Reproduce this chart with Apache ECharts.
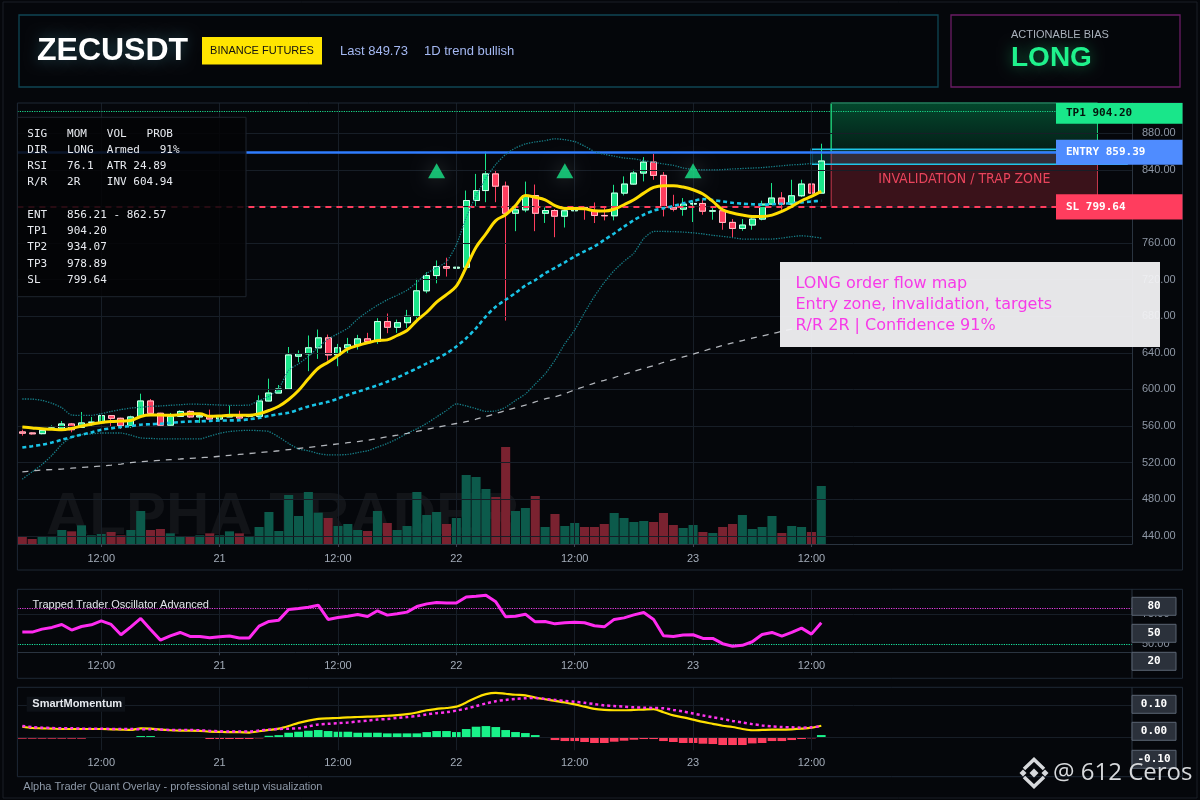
<!DOCTYPE html>
<html><head><meta charset="utf-8">
<script src="https://cdn.jsdelivr.net/npm/echarts@6/dist/echarts.min.js"></script>
<style>html,body{margin:0;padding:0;background:#05070b;}#c{width:1200px;height:800px;}</style>
</head><body><div id="c"></div>
<script>
// ---------------- DATA ----------------
const startDay = 20, startHour = 4, totalBars = 113;
const tickIdx = [8, 20, 32, 44, 56, 68, 80];
const tickLabels = ['12:00', '21', '12:00', '22', '12:00', '23', '12:00'];
const priceTicks = [440, 480, 520, 560, 600, 640, 680, 720, 760, 800, 840, 880];
const oscTicks = [50, 75];

const open = [553.6,552.5,551.7,557.3,557.5,562.3,558.6,564.0,563.7,571.4,
  568.5,560.0,570.6,587.4,574.0,561.0,570.6,576.0,570.0,571.4,
  567.7,570.0,570.6,570.6,570.6,587.4,596.1,600.5,636.4,639.0,
  645.5,656.4,637.8,645.5,648.8,655.3,652.4,674.2,668.0,673.0,
  680.0,707.8,724.5,734.4,732.6,733.6,806.5,817.4,835.6,822.2,
  792.6,796.3,812.0,792.6,795.6,789.4,795.3,799.3,795.0,790.2,
  789.8,814.6,824.5,836.5,848.5,834.0,799.3,797.1,802.6,803.3,
  794.9,795.3,782.6,776.0,779.7,786.2,802.6,809.2,802.6,811.7,
  824.5,814.6];
const close = [552.2,551.5,555.3,558.0,562.3,556.0,563.4,564.3,571.4,568.5,
  560.4,570.0,587.4,573.9,561.0,570.6,576.0,570.0,571.4,567.7,
  570.6,571.4,568.8,571.0,587.4,596.1,600.5,637.7,639.0,645.5,
  656.4,637.8,645.5,648.8,655.3,652.4,674.2,668.0,673.0,680.0,
  707.8,724.5,734.4,732.6,733.6,806.5,817.4,835.6,822.2,792.6,
  796.3,812.0,792.6,795.6,789.4,795.3,799.3,798.5,790.2,789.8,
  814.6,824.5,836.5,848.5,834.0,799.3,797.1,802.6,803.3,794.9,
  795.3,782.6,776.0,779.7,786.2,802.6,809.2,802.6,811.7,824.5,
  814.6,849.7];
const high = [556.0,553.2,556.8,560.8,565.5,563.4,575.4,570.0,572.0,572.1,
  569.2,571.4,595.4,589.6,574.5,574.3,577.2,577.2,574.3,578.0,
  572.0,582.3,576.8,572.0,593.6,611.8,604.9,646.4,642.7,659.0,
  665.5,660.0,649.8,656.4,659.7,661.9,677.9,683.0,676.4,687.0,
  720.9,728.2,741.0,744.0,742.8,817.4,835.6,860.0,840.0,827.2,
  799.0,827.2,824.0,799.0,797.2,800.0,811.0,800.0,804.4,799.3,
  823.7,832.9,840.1,854.0,857.6,837.6,812.8,809.2,806.6,807.4,
  798.3,796.4,786.2,786.2,789.1,806.3,825.6,815.7,829.2,829.2,
  829.2,868.6];
const low = [549.5,550.6,550.9,556.5,556.0,553.2,557.9,559.7,563.0,559.7,
  556.8,558.0,569.0,572.8,560.4,560.0,570.0,568.8,563.4,567.0,
  567.0,570.0,567.7,569.5,570.0,587.0,596.0,600.0,629.8,620.0,
  633.4,631.6,625.4,639.0,643.6,651.3,649.8,661.5,661.9,667.3,
  677.2,705.2,716.0,723.4,726.3,733.6,800.3,804.7,804.7,675.3,
  773.0,793.7,773.0,782.0,766.4,777.0,794.6,785.5,781.9,784.8,
  784.8,812.1,823.8,827.4,829.2,789.1,794.6,789.9,783.0,791.0,
  785.5,774.6,766.2,773.5,774.6,784.8,801.9,796.4,801.9,810.3,
  809.2,814.6];
const volume = [24,15,21,21,42,38,56,26,30,36,
  26,42,99,42,45,32,21,21,26,32,
  26,38,32,24,51,96,39,147,84,156,
  94,78,54,60,42,39,99,63,42,54,
  156,87,96,60,78,207,201,165,141,291,
  99,108,144,51,90,54,63,51,51,60,
  93,78,66,69,66,93,57,48,57,36,
  33,51,60,87,45,51,84,33,54,51,
  36,174];
const emaFast = [559,558,557,556.5,556,557.5,560,562,564,565,
  565.5,566,570.5,572,572,571.7,572.5,573.5,573.5,570.6,
  571,571.7,571.7,571.7,573.5,577,581.6,589,598.8,611.6,
  623.2,629.8,637,644.4,648,651,653.5,654.2,659,664.4,
  675.3,684.4,695.4,703.7,712.9,733.6,755.5,770,784.6,791,
  801,812,810,807.2,801,797.9,797.9,797.5,795.3,795,
  797,801.9,807.4,814.6,820.8,822.7,822.7,821.2,818.3,813.6,
  805.5,796.4,792.8,790.6,789.1,789.1,790.6,794.6,800,806.3,
  811,816.5];
const emaSlow = [536.5,538,539.7,542,545,548,550.6,553,556,557.5,
  559,560,561.5,562,562.6,563.5,564.4,565,565.2,565.6,
  566,566.2,566.3,567.5,568.8,571,573,574.5,578,581.5,
  584,586.5,590,594,597.5,601,604.5,608.5,613,618,
  623,628.5,633.5,639.5,647,656,667,680,690.5,698,
  705.5,713.6,719.5,727,733,739,745.4,751,756.4,763.5,
  770.5,778,785,791,795.5,798,800.5,803.5,806,808,
  807,805.5,804,803,802.5,802,802.5,803,803.7,804.4,
  805.5,806.3];
const bbUpper = [589.6,589.5,588,585,580,572,571.7,571.7,573.5,576,
  578,579.7,580.5,581.6,582,582.7,583.3,584,583.8,583.5,
  583,582.7,582.7,583,588,592.5,601,621,628,636,
  646,655,661,667,677,685,692,698,703,708.5,
  717,727,733,739.5,758,788,812,831,846,857,
  864,868.4,870.5,872,874,873,871,866,860,857,
  855,853,852,850,848.5,846.5,845,842,840.5,840,
  840,840.3,841,841.5,842,842.5,843.5,844.5,845.5,846,
  847,847.5];
const bbLower = [502,510,518,528,540,548,550.6,551.5,552.4,552.4,
  552.4,550,547,546.5,546,546,546,546,546,549,
  552,554,555,555.3,555,554,548,541,535,533,
  530,528.5,528.5,529,531,533,537,541,546,552,
  557,563,570,577,584.3,582,579,576,576.5,580.6,
  588,595,606,617,632,650,665,684,701.7,717,
  730,740,749,765,772.7,772.7,772.5,772,771.2,770,
  768.5,767.3,766,764.4,764.4,764.4,764.4,765.5,767,768,
  767,765.5];
const trendMA = [510,511,512,512.5,513,514,514.8,515.5,516.3,517.3,
  518.5,520,521,521.8,522.5,523.3,524,524.7,525.4,526,
  527,528,529,530,531,532,533,534.3,535.5,536.7,
  538,539.2,540.5,541.8,543,544.5,546.3,548.2,550,552,
  554.2,556.4,558.6,560.8,562.8,564.8,567.5,570.5,573.7,577,
  580,583,586.4,589.8,592,595.5,599.5,603.2,607,610,
  613,616.5,619.7,623,626,629.5,632.5,635.5,638.5,641.8,
  645,648,650.8,653.5,656,658.5,661,663.5,666,668.5,
  671,673.5];
const oscValues = [60,60,62.5,63.9,66.4,61.7,64.7,66.1,69.4,66.4,
  57.8,64.4,71.4,62.2,53.3,56.9,59.7,56.4,56.4,55.3,
  56.1,56.7,55,55,65,68.9,70,78.9,79.7,80.8,
  82.5,70.6,72.2,73.3,74.7,73,77.8,74.2,75.3,76.7,
  81.4,83.6,84.7,84.4,84.4,89.4,90,90.8,85.3,72.8,
  73.3,75,68.6,68.9,66.9,67.8,68.3,67.8,65.3,64.4,
  70.6,71.9,74.4,76.4,70.6,56.9,56.4,57.5,57.8,54.7,
  54.7,50.3,48.1,48.9,51.9,58,59.7,56.7,59.7,63.3,
  58.3,67.8];
const momLine = [0.033,0.029,0.028,0.027,0.026,0.026,0.026,0.026,0.026,0.025,
  0.024,0.023,0.028,0.027,0.024,0.022,0.021,0.021,0.020,0.018,
  0.017,0.016,0.016,0.015,0.019,0.023,0.027,0.035,0.045,0.052,
  0.057,0.059,0.060,0.062,0.063,0.064,0.065,0.067,0.069,0.072,
  0.077,0.084,0.088,0.091,0.095,0.108,0.123,0.134,0.138,0.135,
  0.132,0.130,0.123,0.118,0.113,0.108,0.102,0.095,0.088,0.085,
  0.084,0.084,0.085,0.086,0.087,0.078,0.068,0.062,0.055,0.048,
  0.042,0.036,0.032,0.026,0.022,0.023,0.024,0.024,0.025,0.027,
  0.030,0.036];
const momSignal = [0.035,0.032,0.030,0.029,0.028,0.028,0.027,0.027,0.027,0.026,
  0.026,0.026,0.025,0.025,0.024,0.023,0.023,0.0226,0.022,0.020,
  0.019,0.018,0.018,0.018,0.021,0.024,0.026,0.027,0.028,0.034,
  0.040,0.042,0.044,0.046,0.049,0.052,0.055,0.057,0.060,0.063,
  0.066,0.071,0.075,0.078,0.083,0.089,0.097,0.105,0.112,0.116,
  0.119,0.121,0.122,0.119,0.116,0.113,0.110,0.107,0.103,0.099,
  0.097,0.095,0.093,0.092,0.091,0.090,0.085,0.080,0.074,0.068,
  0.062,0.057,0.051,0.046,0.041,0.037,0.034,0.032,0.031,0.030,
  0.031,0.035];
const momHist = [-0.004,-0.004,-0.004,-0.004,-0.004,-0.004,-0.004,-0.002,-0.002,-0.002,
  -0.002,-0.002,0.004,0.004,-0.002,-0.002,-0.002,-0.002,-0.002,-0.005,
  -0.005,-0.005,-0.005,-0.005,-0.003,0.005,0.007,0.0144,0.0175,0.0206,
  0.0227,0.0196,0.0175,0.0175,0.0144,0.0144,0.0144,0.0124,0.0124,0.0124,
  0.0124,0.0165,0.0196,0.0196,0.0165,0.0258,0.033,0.035,0.032,0.0227,
  0.0165,0.0134,0.0072,-0.002,-0.0083,-0.0114,-0.0114,-0.0144,-0.0175,-0.0175,
  -0.0134,-0.0103,-0.0072,-0.0052,-0.0052,-0.0114,-0.0144,-0.0175,-0.0175,-0.0196,
  -0.0206,-0.0237,-0.0237,-0.0237,-0.0186,-0.0175,-0.0114,-0.0114,-0.0083,-0.0052,
  -0.003,0.0072];
const signalIdx = [42, 55, 68];
const signalPrice = 839;
const tp1 = 904.20, entry = 859.39, sl = 799.64;
const entryBoxHigh = 862.57, entryBoxLow = 846.2;
const zoneStart = 82, zoneEnd = 109, boxStart = 80, boxEnd = 112;
const infoLines = [
  'SIG   MOM   VOL   PROB',
  'DIR   LONG  Armed   91%',
  'RSI   76.1  ATR 24.89',
  'R/R   2R    INV 604.94',
  '',
  'ENT   856.21 - 862.57',
  'TP1   904.20',
  'TP2   934.07',
  'TP3   978.89',
  'SL    799.64'
];
const noteLines = ['LONG order flow map', 'Entry zone, invalidation, targets', 'R/R 2R | Confidence 91%'];

// ---------------- BUILD ----------------
const FONT = "'Liberation Sans', Arial, sans-serif";
const MONO = "'DejaVu Sans Mono', monospace";
const categories = [];
for (let k = 0; k < totalBars; k++) {
  const h = startHour + k, d = startDay + Math.floor(h / 24), hh = h % 24;
  categories.push(d + ' ' + String(hh).padStart(2, '0') + ':00');
}
const labelMap = {};
tickIdx.forEach((t, j) => labelMap[t] = tickLabels[j]);
const isTick = i => tickIdx.indexOf(i) >= 0;

const candleData = open.map((o, i) => [o, close[i], low[i], high[i]]);
const bodyData = open.map((o, i) => [o, close[i], Math.min(o, close[i]), Math.max(o, close[i])]);
const volData = volume.map((v, i) => ({ value: v, itemStyle: { color: close[i] >= open[i] ? '#0c5a4b' : '#7a2230' } }));
const histData = momHist.map(v => ({ value: v, itemStyle: { color: v >= 0 ? '#19f28a' : '#ff3d5e' } }));

const GL = 17.4, GR = 68;
const grids = [
  { left: GL, right: GR, top: 103, height: 441 },
  { left: GL, right: GR, top: 444, height: 100 },
  { left: GL, right: GR, top: 589.3, height: 63 },
  { left: GL, right: GR, top: 687.3, height: 63 }
];
function makeX(gi, show, margin) {
  return {
    type: 'category', gridIndex: gi, data: categories, boundaryGap: true,
    axisLine: { show: show, lineStyle: { color: '#2a3440' } },
    axisTick: { show: show, alignWithLabel: true, interval: (i) => isTick(i), length: 3, lineStyle: { color: '#3a4452' } },
    axisLabel: { show: show, interval: (i) => isTick(i), formatter: (v, i) => labelMap[i] || '', color: '#a3acb9', fontSize: 11, margin: margin, fontFamily: FONT },
    splitLine: { show: false }
  };
}
const vLines = tickIdx.map(i => ({ xAxis: categories[i] }));
function gridHelper(xi, yi, extra) {
  return {
    type: 'line', xAxisIndex: xi, yAxisIndex: yi, data: [], z: 1, silent: true,
    markLine: { silent: true, symbol: ['none', 'none'], animation: false, label: { show: false },
      lineStyle: { color: '#171e27', width: 1, type: 'solid' }, data: vLines.concat(extra) }
  };
}

const option = {
  backgroundColor: '#05070b',
  animation: false,
  grid: grids,
  xAxis: [makeX(0, false, 8), makeX(1, true, 9), makeX(2, true, 8), makeX(3, true, 7)],
  yAxis: [
    { type: 'value', gridIndex: 0, position: 'right', min: 431.1, max: 913.1,
      axisLine: { show: true, lineStyle: { color: '#2a3440' } },
      axisTick: { show: false, customValues: priceTicks },
      axisLabel: { customValues: priceTicks, formatter: v => Number(v).toFixed(2), color: '#8e97a5', fontSize: 11, margin: 10, fontFamily: FONT },
      splitLine: { show: false } },
    { type: 'value', gridIndex: 1, min: 0, max: 300, show: false, splitLine: { show: false } },
    { type: 'value', gridIndex: 2, position: 'right', min: 43.1, max: 95.8,
      axisLine: { show: false }, axisTick: { show: false, customValues: oscTicks },
      axisLabel: { customValues: oscTicks, formatter: v => Number(v).toFixed(2), color: '#8e97a5', fontSize: 11, margin: 10, fontFamily: FONT },
      splitLine: { show: false } },
    { type: 'value', gridIndex: 3, min: -0.040, max: 0.155, show: false, splitLine: { show: false } }
  ],
  series: [
    gridHelper(0, 0, priceTicks.map(v => ({ yAxis: v }))),
    gridHelper(2, 2, [{ yAxis: 75 }]),
    gridHelper(3, 3, [{ yAxis: 0 }, { yAxis: 0.1 }]),
    { // zones and levels
      type: 'line', xAxisIndex: 0, yAxisIndex: 0, data: [], z: 1, silent: true,
      markArea: { silent: true, animation: false, data: [
        [{ xAxis: categories[zoneStart], yAxis: entry,
           itemStyle: { color: new echarts.graphic.LinearGradient(0, 0, 0, 1, [
             { offset: 0, color: 'rgba(0,200,110,0.34)' }, { offset: 1, color: 'rgba(0,170,100,0.14)' }]),
             borderColor: '#1fd07a', borderWidth: 1 }, label: { show: false } },
         { xAxis: categories[zoneEnd], yAxis: 913.1 }],
        [{ xAxis: categories[zoneStart], yAxis: sl,
           itemStyle: { color: 'rgba(220,50,70,0.25)', borderColor: '#c8394e', borderWidth: 1 },
           label: { show: true, position: 'inside', formatter: 'INVALIDATION / TRAP ZONE', color: '#e8445c', fontSize: 14, fontFamily: "'DejaVu Sans Condensed', 'Liberation Sans Narrow', " + FONT } },
         { xAxis: categories[zoneEnd], yAxis: entry }],
        [{ xAxis: categories[boxStart], yAxis: entryBoxLow,
           itemStyle: { color: 'rgba(20,170,200,0.18)', borderColor: '#1fc6e8', borderWidth: 1.5 }, label: { show: false } },
         { xAxis: categories[boxEnd], yAxis: entryBoxHigh }]
      ] },
      markLine: { silent: true, symbol: ['none', 'none'], animation: false, label: { show: false }, data: [
        { yAxis: tp1, lineStyle: { color: '#19d98a', type: 'dotted', width: 1.2 } },
        { yAxis: entry, lineStyle: { color: '#2f7dff', type: 'solid', width: 2.5 } },
        { yAxis: sl, lineStyle: { color: '#ff3d5e', type: [6, 5], width: 2 } }
      ] }
    },
    { type: 'bar', xAxisIndex: 1, yAxisIndex: 1, data: volData, barWidth: '92%', z: 2, silent: true },
    { type: 'candlestick', xAxisIndex: 0, yAxisIndex: 0, data: candleData, barWidth: '66%', z: 3,
      itemStyle: { color: '#19e68a', color0: '#ff3d5e', borderColor: '#19e68a', borderColor0: '#ff3d5e', borderWidth: 1 } },
    { type: 'candlestick', xAxisIndex: 0, yAxisIndex: 0, data: bodyData, barWidth: '66%', z: 4,
      itemStyle: { color: '#19e68a', color0: '#ff3d5e', borderColor: '#dcfff0', borderColor0: '#ffc4ce', borderWidth: 1 } },
    { type: 'line', xAxisIndex: 0, yAxisIndex: 0, data: bbUpper, symbol: 'none', z: 5, smooth: 0.2,
      lineStyle: { color: '#17808a', width: 1.3, type: 'dotted' } },
    { type: 'line', xAxisIndex: 0, yAxisIndex: 0, data: bbLower, symbol: 'none', z: 5, smooth: 0.2,
      lineStyle: { color: '#17808a', width: 1.3, type: 'dotted' } },
    { type: 'line', xAxisIndex: 0, yAxisIndex: 0, data: trendMA, symbol: 'none', z: 5, smooth: 0.3,
      lineStyle: { color: 'rgba(222,226,232,0.8)', width: 1.3, type: [6, 6] } },
    { type: 'line', xAxisIndex: 0, yAxisIndex: 0, data: emaSlow, symbol: 'none', z: 6, smooth: 0.3,
      lineStyle: { color: '#19c3e6', width: 2.6, type: [4, 3] } },
    { type: 'line', xAxisIndex: 0, yAxisIndex: 0, data: emaFast, symbol: 'none', z: 7, smooth: 0.35,
      lineStyle: { color: '#ffdd00', width: 3 } },
    { type: 'scatter', xAxisIndex: 0, yAxisIndex: 0, data: signalIdx.map(i => [categories[i], signalPrice]),
      symbol: 'triangle', symbolSize: [17, 15], z: 8,
      itemStyle: { color: '#19e68a', shadowBlur: 18, shadowColor: 'rgba(150,170,180,0.45)' } },
    { type: 'line', xAxisIndex: 2, yAxisIndex: 2, data: oscValues, symbol: 'none', z: 5,
      lineStyle: { color: '#ff2bf0', width: 3 },
      markLine: { silent: true, symbol: ['none', 'none'], animation: false, label: { show: false }, data: [
        { yAxis: 80, lineStyle: { color: '#e63ee0', type: 'dotted', width: 1.2 } },
        { yAxis: 50, lineStyle: { color: '#19e6a0', type: 'dotted', width: 1.2 } }
      ] } },
    { type: 'bar', xAxisIndex: 3, yAxisIndex: 3, data: histData, barWidth: '88%', z: 3, silent: true },
    { type: 'line', xAxisIndex: 3, yAxisIndex: 3, data: momLine, symbol: 'none', z: 5, smooth: 0.3,
      lineStyle: { color: '#ffe000', width: 2.2 } },
    { type: 'line', xAxisIndex: 3, yAxisIndex: 3, data: momSignal, symbol: 'none', z: 6, smooth: 0.3,
      lineStyle: { color: '#ff33ee', width: 2.5, type: [3, 3] } }
  ]
};

const chart = echarts.init(document.getElementById('c'), null, { renderer: 'canvas', width: 1200, height: 800 });
chart.setOption(option);

// ---------------- OVERLAYS ----------------
function rect(x, y, w, h, style, z) { return { type: 'rect', shape: { x: x, y: y, width: w, height: h }, style: style, z: z || 0, silent: true }; }
function txt(x, y, s, font, fill, align, z, extra) {
  return { type: 'text', x: x, y: y, z: z || 0, silent: true,
    style: Object.assign({ text: s, font: font, fill: fill, align: align || 'left', verticalAlign: 'middle', textAlign: align || 'left', textVerticalAlign: 'middle' }, extra || {}) };
}
const g = [];
// frame
g.push(rect(3, 2, 1194, 796, { fill: 'none', stroke: '#1a1f27', lineWidth: 1 }, 0));
// header
g.push(rect(19, 15, 919, 72, { fill: '#04060a', stroke: '#0f4654', lineWidth: 1.3 }, 0));
g.push(rect(951, 15, 229, 72, { fill: '#04060a', stroke: '#6b1c66', lineWidth: 1.3 }, 0));
g.push(txt(37, 51, 'ZECUSDT', 'bold 32px ' + FONT, '#ffffff', 'left', 1, { textShadowBlur: 14, textShadowColor: 'rgba(90,200,230,0.35)' }));
g.push(rect(202, 37, 120, 27.5, { fill: '#ffe500' }, 1));
g.push(txt(262, 51, 'BINANCE FUTURES', '11px ' + FONT, '#111111', 'center', 2));
g.push(txt(340, 51, 'Last 849.73', '13px ' + FONT, '#a4b8f2', 'left', 1));
g.push(txt(424, 51, '1D trend bullish', '13px ' + FONT, '#a4b8f2', 'left', 1));
g.push(txt(1011, 34.5, 'ACTIONABLE BIAS', '11px ' + FONT, '#a9b1bb', 'left', 1));
g.push(txt(1011, 58.5, 'LONG', 'bold 28px ' + FONT, '#1ff28c', 'left', 1, { textShadowBlur: 14, textShadowColor: 'rgba(30,240,140,0.45)' }));
// panels
g.push(rect(17.4, 103, 1165.1, 467, { fill: 'none', stroke: '#1e2835', lineWidth: 1 }, 10));
g.push(rect(17.4, 589.3, 1165.1, 89, { fill: 'none', stroke: '#1e2835', lineWidth: 1 }, 10));
g.push(rect(17.4, 687.3, 1165.1, 89.4, { fill: 'none', stroke: '#1e2835', lineWidth: 1 }, 10));
g.push({ type: 'line', shape: { x1: 1132, y1: 589.3, x2: 1132, y2: 678.3 }, style: { stroke: '#2a3440', lineWidth: 1 }, z: 10, silent: true });
g.push({ type: 'line', shape: { x1: 1132, y1: 687.3, x2: 1132, y2: 776.7 }, style: { stroke: '#2a3440', lineWidth: 1 }, z: 10, silent: true });
// watermark
g.push(txt(46, 517, 'ALPHA TRADER', 'bold 60px ' + FONT, 'rgba(255,255,255,0.055)', 'left', 0));
// info panel
g.push(rect(17.4, 117.3, 228.6, 179.4, { fill: 'rgba(3,4,6,0.86)', stroke: '#1e252e', lineWidth: 1 }, 100));
const infoY = [134, 150, 166, 182.3, 198.6, 215, 231, 247, 264, 280];
infoLines.forEach((s, i) => { if (s) g.push(txt(27.3, infoY[i], s, '11px ' + MONO, '#e8ebf0', 'left', 101)); });
// note box
g.push(rect(780, 262, 380, 85, { fill: 'rgba(242,242,244,0.95)' }, 100));
const noteY = [284, 304.5, 325.5];
noteLines.forEach((s, i) => g.push(txt(795.5, noteY[i], s, '16px "DejaVu Sans", ' + FONT, '#f73ae8', 'left', 101)));
// level labels on right
const gridTop = 103;
function levelBox(value, label, fill, color) {
  const y = chart.convertToPixel({ yAxisIndex: 0 }, value);
  const top = Math.max(gridTop, y - 12.5), bot = y + 12.7;
  g.push(rect(1056, top, 126.5, bot - top, { fill: fill }, 100));
  g.push(txt(1066, (top + bot) / 2, label, 'bold 11px ' + MONO, color, 'left', 101));
}
levelBox(tp1, 'TP1 ' + tp1.toFixed(2), '#19e68a', '#04140c');
levelBox(entry, 'ENTRY ' + entry.toFixed(2), '#4f8cff', '#ffffff');
levelBox(sl, 'SL ' + sl.toFixed(2), '#ff3d5e', '#ffffff');
// panel titles
g.push(txt(32.5, 605.3, 'Trapped Trader Oscillator Advanced', '11px ' + FONT, '#e3e6eb', 'left', 100));
g.push(rect(26.7, 696.7, 98.3, 15, { fill: '#0d1117' }, 99));
g.push(txt(32.3, 704.2, 'SmartMomentum', 'bold 11px ' + FONT, '#e6e9ee', 'left', 100));
// value boxes
function vbox(y, s) {
  g.push(rect(1132, y, 44, 18, { fill: '#2b313b', stroke: '#5b6472', lineWidth: 1 }, 100));
  g.push(txt(1154, y + 9, s, 'bold 11px ' + MONO, '#ffffff', 'center', 101));
}
vbox(597.3, '80'); vbox(624.3, '50'); vbox(652.3, '20');
vbox(695.3, '0.10'); vbox(722.3, '0.00'); vbox(750.3, '-0.10');
// footer
g.push(txt(23.3, 787.3, 'Alpha Trader Quant Overlay - professional setup visualization', '11px ' + FONT, '#8e99a8', 'left', 100));
// logo + handle
const lc = '#d7d9dc';
g.push({ type: 'polyline', shape: { points: [[1024, 769], [1034, 759.5], [1044, 769]] }, style: { stroke: lc, lineWidth: 3.5, fill: 'none' }, z: 100, silent: true });
g.push({ type: 'polyline', shape: { points: [[1024, 777], [1034, 786.5], [1044, 777]] }, style: { stroke: lc, lineWidth: 3.5, fill: 'none' }, z: 100, silent: true });
g.push({ type: 'polygon', shape: { points: [[1034, 768.5], [1038.5, 773], [1034, 777.5], [1029.5, 773]] }, style: { fill: lc }, z: 100, silent: true });
g.push({ type: 'polygon', shape: { points: [[1019.5, 773], [1023, 769.5], [1026.5, 773], [1023, 776.5]] }, style: { fill: lc }, z: 100, silent: true });
g.push({ type: 'polygon', shape: { points: [[1041.5, 773], [1045, 769.5], [1048.5, 773], [1045, 776.5]] }, style: { fill: lc }, z: 100, silent: true });
g.push(txt(1053, 773.5, '@ 612 Ceros', '24px "Open Sans", ' + FONT, lc, 'left', 100));

chart.setOption({ graphic: { elements: g } });
</script>
</body></html>
